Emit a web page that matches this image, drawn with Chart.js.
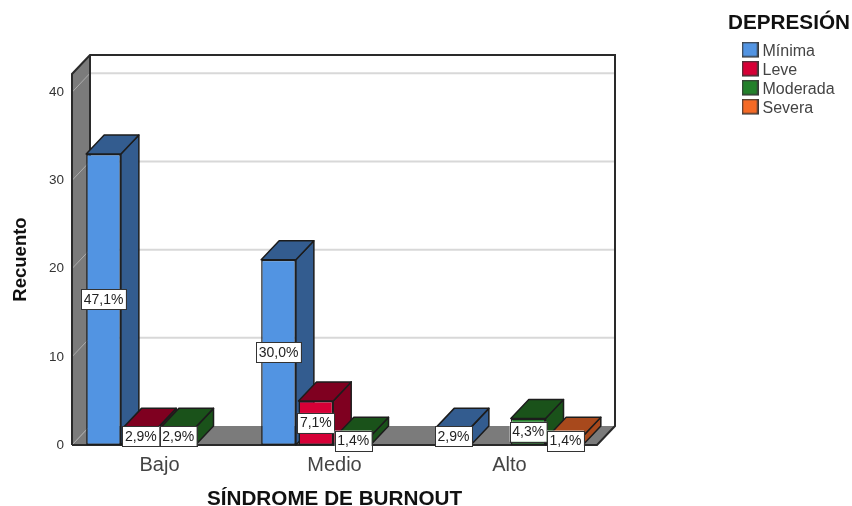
<!DOCTYPE html>
<html>
<head>
<meta charset="utf-8">
<style>html,body{margin:0;padding:0;background:#fff}canvas{display:block}</style>
<script src="https://cdn.jsdelivr.net/npm/chart.js@4/dist/chart.umd.js"></script>
</head>
<body>
<canvas id="c" width="852" height="506"></canvas>
<script>
const categories = ['Bajo', 'Medio', 'Alto'];
const seriesNames = ['Mínima', 'Leve', 'Moderada', 'Severa'];
const minima = [33, 21, 2];
const leve = [2, 5, 0];
const moderada = [2, 1, 3];
const severa = [0, 0, 1];
const minimaLabels = ['47,1%', '30,0%', '2,9%'];
const leveLabels = ['2,9%', '7,1%', ''];
const moderadaLabels = ['2,9%', '1,4%', '4,3%'];
const severaLabels = ['', '', '1,4%'];
const yTicks = [0, 10, 20, 30, 40];
const frontColors = ['#5294E2', '#D60036', '#23802B', '#F56A26'];
const shadeColors = ['#335C8F', '#7F0020', '#1A521A', '#A8491C'];
const xTitle = 'SÍNDROME DE BURNOUT';
const yTitle = 'Recuento';
const legendTitle = 'DEPRESIÓN';

const DX = 18, DY = -19, INK = '#1c1c1c', WALL = '#7B7B7B', FONT = '"Liberation Sans", Arial, sans-serif';
const allValues = [minima, leve, moderada, severa];
const allLabels = [minimaLabels, leveLabels, moderadaLabels, severaLabels];

function poly(ctx, pts, fill, stroke, lw) {
  ctx.beginPath();
  pts.forEach((p, i) => i ? ctx.lineTo(p[0], p[1]) : ctx.moveTo(p[0], p[1]));
  ctx.closePath();
  if (fill) { ctx.fillStyle = fill; ctx.fill(); }
  if (stroke) { ctx.strokeStyle = stroke; ctx.lineWidth = lw; ctx.lineJoin = 'round'; ctx.stroke(); }
}
function swatch(color) {
  const s = document.createElement('canvas');
  s.width = 17; s.height = 21;
  const c = s.getContext('2d');
  c.fillStyle = color; c.fillRect(0, 0, 17, 16);
  c.strokeStyle = '#3a3a3a'; c.lineWidth = 1.5; c.strokeRect(.75, .75, 15.5, 14.5);
  return s;
}
function barsOf(chart) {
  const out = [];
  chart.data.datasets.forEach((ds, d) => {
    chart.getDatasetMeta(d).data.forEach((el, i) => {
      const p = el.getProps(['x', 'y', 'base', 'width'], true);
      out.push({ d, i, v: ds.data[i], x: p.x, y: p.y, base: p.base, w: p.width });
    });
  });
  return out.sort((a, b) => a.x - b.x);
}
const box3d = {
  id: 'box3d',
  afterLayout(chart) {
    const l = chart.legend;
    if (l) {
      l.left = 742.5; l.top = 13; l.right = 852; l.bottom = 130; l.width = 93; l.height = 117;
      l.draw = l._draw; // the legend title overhangs its item column
    }
  },
  beforeDatasetsDraw(chart) {
    const { ctx, chartArea: a, scales: { y } } = chart;
    const L = a.left, R = a.right, B = a.bottom, T = a.top;
    ctx.save();
    poly(ctx, [[L, B], [L, T], [L + DX, T + DY], [L + DX, B + DY]], WALL);
    poly(ctx, [[L, B], [R, B], [R + DX, B + DY], [L + DX, B + DY]], WALL);
    yTicks.filter(v => v > 0).forEach(v => {
      const p = y.getPixelForValue(v);
      ctx.strokeStyle = '#D8D8D8'; ctx.lineWidth = 2;
      ctx.beginPath(); ctx.moveTo(L + DX, p + DY); ctx.lineTo(R + DX, p + DY); ctx.stroke();
      ctx.strokeStyle = '#ABABAB'; ctx.lineWidth = 1;
      ctx.beginPath(); ctx.moveTo(L, p); ctx.lineTo(L + DX, p + DY); ctx.stroke();
    });
    ctx.strokeStyle = '#ABABAB'; ctx.lineWidth = 1;
    ctx.beginPath(); ctx.moveTo(L, B); ctx.lineTo(L + DX, B + DY); ctx.stroke();
    ctx.strokeStyle = '#2a2a2a'; ctx.lineWidth = 2; ctx.lineJoin = 'miter';
    ctx.beginPath();
    ctx.moveTo(L, B); ctx.lineTo(L, T); ctx.lineTo(L + DX, T + DY); ctx.lineTo(R + DX, T + DY);
    ctx.lineTo(R + DX, B + DY); ctx.lineTo(R, B); ctx.lineTo(L, B);
    ctx.moveTo(L + DX, T + DY); ctx.lineTo(L + DX, B + DY);
    ctx.stroke();
    barsOf(chart).forEach(b => {
      if (!b.v) return;
      const l = b.x - b.w / 2, r = b.x + b.w / 2;
      poly(ctx, [[r, b.y], [r + DX, b.y + DY], [r + DX, b.base + DY], [r, b.base]], shadeColors[b.d], INK, 1.5);
      poly(ctx, [[l, b.y], [r, b.y], [r + DX, b.y + DY], [l + DX, b.y + DY]], shadeColors[b.d], INK, 1.5);
    });
    ctx.restore();
  },
  afterDatasetsDraw(chart) {
    const { ctx } = chart;
    ctx.save();
    ctx.font = '14px ' + FONT;
    ctx.textAlign = 'center'; ctx.textBaseline = 'middle';
    barsOf(chart).forEach(b => {
      const t = allLabels[b.d][b.i];
      if (!t) return;
      const w = ctx.measureText(t).width + 5, h = 20, cy = (b.y + b.base) / 2;
      ctx.fillStyle = '#fff'; ctx.strokeStyle = '#333'; ctx.lineWidth = 1;
      ctx.fillRect(b.x - w / 2, cy - h / 2, w, h);
      ctx.strokeRect(Math.round(b.x - w / 2) + .5, Math.round(cy - h / 2) + .5, Math.round(w), h);
      ctx.fillStyle = '#222';
      ctx.fillText(t, b.x, cy + 0.5);
    });
    ctx.restore();
  }
};
const swatches = frontColors.map(swatch);
new Chart(document.getElementById('c'), {
  type: 'bar',
  data: {
    labels: categories,
    datasets: seriesNames.map((n, i) => ({
      label: n, data: allValues[i],
      backgroundColor: frontColors[i], borderColor: INK, borderWidth: 1.5, borderSkipped: false,
      barPercentage: 0.93, categoryPercentage: 0.853
    }))
  },
  options: {
    responsive: false, animation: false,
    layout: { padding: { top: 74, right: 255, bottom: 0, left: 0 } },
    scales: {
      x: {
        grid: { display: false, drawTicks: false }, border: { display: false },
        ticks: { padding: 8, color: '#444', font: { family: FONT, size: 20 }, maxRotation: 0 },
        title: { display: true, text: xTitle, color: '#111', padding: 0, font: { family: FONT, size: 20.7, weight: 'bold', lineHeight: 0.65 } },
        afterFit(s) { s.height = 61; }
      },
      y: {
        min: 0, max: 42.07,
        grid: { display: false, drawTicks: false }, border: { display: false },
        afterBuildTicks(s) { s.ticks = yTicks.map(v => ({ value: v })); },
        ticks: { padding: 8, color: '#333', font: { family: FONT, size: 13.5 } },
        title: { display: true, text: yTitle, color: '#111', padding: { top: 10, bottom: 0 }, font: { family: FONT, size: 18.5, weight: 'bold' } },
        afterFit(s) { s.width = 72; }
      }
    },
    plugins: {
      tooltip: { enabled: false },
      legend: {
        position: 'chartArea', align: 'start',
        title: { display: true, text: legendTitle, position: 'center', color: '#111', padding: { top: 0, bottom: 3.2 }, font: { family: FONT, size: 20.7, weight: 'bold' } },
        labels: {
          usePointStyle: true, pointStyleWidth: 9, padding: 3, color: '#444', font: { family: FONT, size: 16 },
          generateLabels(chart) {
            return Chart.defaults.plugins.legend.labels.generateLabels(chart).map((it, i) => ({ ...it, pointStyle: swatches[i] }));
          }
        }
      }
    }
  },
  plugins: [box3d]
});
</script>
</body>
</html>
